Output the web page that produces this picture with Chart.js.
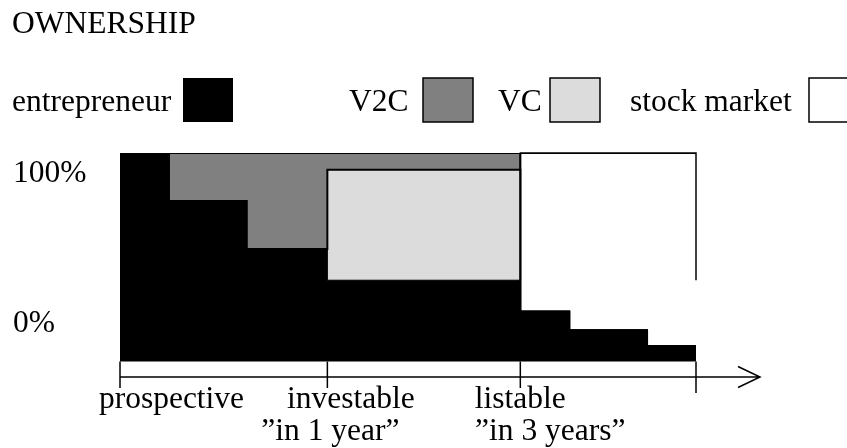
<!DOCTYPE html>
<html lang="en">
<head>
<meta charset="UTF-8">
<title>Ownership</title>
<script src="https://cdn.jsdelivr.net/npm/chart.js"></script>
<style>
  html, body { margin: 0; padding: 0; background: #fff; }
  canvas { display: block; }
</style>
</head>
<body>
<canvas id="ownership" width="847" height="448"></canvas>
<script>
  // stage positions along the time axis (0 = prospective, 100 = end of axis)
  const stageX = [0, 8.5, 22, 36, 69.5, 78, 91.5, 100];

  // ownership shares (%) held from each stage position onwards
  const entrepreneur = [100, 77, 54, 39, 24, 15, 7.5, 7.5];
  const vc           = [0, 0, 0, 53, 0, 0, 0, 0];
  const v2c          = [0, 23, 46, 8, 0, 0, 0, 0];
  const stockMarket  = [0, 0, 0, 0, 76, 85, 92.5, 92.5];

  const titleText = "OWNERSHIP";
  const tickValues = [0, 36, 69.5, 100];
  const tickLabels = ["prospective", "investable", "listable", ""];
  const tickSubLabels = ["", "\u201Din 1 year\u201D", "\u201Din 3 years\u201D", ""];
  const yLabelValues = [100, 0];
  const yLabels = ["100%", "0%"];

  const FONT = '31.5px "Liberation Serif", "Times New Roman", serif';

  const pts = vals => stageX.map((x, i) => ({ x: x, y: vals[i] }));

  // drawing that chart.js has no option for: title, legend, axis arrow, labels
  const overlay = {
    id: 'overlay',
    afterDatasetsDraw(chart) {
      const { ctx, chartArea, scales: { x, y } } = chart;
      ctx.save();
      ctx.strokeStyle = '#000';
      ctx.lineWidth = 1.5;

      // stock market box: left, top and right edges
      const xl = x.getPixelForValue(stageX[4]);
      const xr = x.getPixelForValue(stageX[stageX.length - 1]);
      const yt = y.getPixelForValue(100);
      const yb = y.getPixelForValue(entrepreneur[3]);
      ctx.beginPath();
      ctx.moveTo(xl, yb); ctx.lineTo(xl, yt); ctx.lineTo(xr, yt); ctx.lineTo(xr, yb);
      ctx.stroke();

      // x axis with arrow
      const ya = chartArea.bottom;
      const x0 = x.getPixelForValue(0);
      const tip = chartArea.right + 64;
      ctx.beginPath();
      ctx.moveTo(x0, ya); ctx.lineTo(tip, ya);
      ctx.moveTo(tip - 22, ya - 10.5); ctx.lineTo(tip, ya); ctx.lineTo(tip - 22, ya + 10.5);
      ctx.stroke();

      // ticks
      const y0 = y.getPixelForValue(0);
      tickValues.forEach((t, i) => {
        const px = x.getPixelForValue(t);
        ctx.beginPath();
        ctx.moveTo(px, y0);
        ctx.lineTo(px, ya + (i === tickValues.length - 1 ? 16 : 11));
        ctx.stroke();
      });

      ctx.fillStyle = '#000';
      ctx.font = FONT;
      ctx.textBaseline = 'alphabetic';

      // tick labels
      const dx1 = [51.5, 23.5, 0, 0];
      const dx2 = [0, 3, 30, 0];
      ctx.textAlign = 'center';
      tickValues.forEach((t, i) => {
        const px = x.getPixelForValue(t);
        if (tickLabels[i]) ctx.fillText(tickLabels[i], px + dx1[i], ya + 31);
        if (tickSubLabels[i]) ctx.fillText(tickSubLabels[i], px + dx2[i], ya + 63);
      });

      // y labels
      ctx.textAlign = 'left';
      ctx.fillText(yLabels[0], 13, y.getPixelForValue(yLabelValues[0]) + 29);
      ctx.fillText(yLabels[1], 13, y.getPixelForValue(yLabelValues[1]) - 29.5);

      // title
      ctx.fillText(titleText, 12, 33);

      // legend: text followed by a box
      const legend = [
        { ds: 0, textX: 12,  boxX: 183 },
        { ds: 2, textX: 349, boxX: 423 },
        { ds: 1, textX: 498, boxX: 550 },
        { ds: 3, textX: 630, boxX: 809 }
      ];
      legend.forEach(item => {
        const d = chart.data.datasets[item.ds];
        ctx.fillStyle = '#000';
        ctx.fillText(d.label, item.textX, 111);
        ctx.fillStyle = d.backgroundColor;
        ctx.fillRect(item.boxX, 78, 50, 44);
        if (item.ds !== 0) {
          ctx.lineWidth = 1.5;
          ctx.strokeRect(item.boxX, 78, 50, 44);
        }
      });

      ctx.restore();
    }
  };

  const ctx = document.getElementById('ownership').getContext('2d');
  const chart = new Chart(ctx, {
    type: 'line',
    data: {
      datasets: [
        { label: 'entrepreneur', data: pts(entrepreneur), backgroundColor: '#000000', borderColor: '#000', borderWidth: 1, fill: 'origin' },
        { label: 'VC', data: pts(vc), backgroundColor: '#dcdcdc', borderColor: '#000', borderWidth: 2, fill: '-1' },
        { label: 'V2C', data: pts(v2c), backgroundColor: '#808080', borderColor: '#000', borderWidth: 2, fill: '-1' },
        { label: 'stock market', data: pts(stockMarket), backgroundColor: '#ffffff', borderColor: '#000', borderWidth: 2, fill: '-1' }
      ]
    },
    options: {
      responsive: false,
      animation: false,
      layout: { padding: { left: 120, right: 151, top: 153, bottom: 71 } },
      elements: { line: { stepped: true, tension: 0 }, point: { radius: 0 } },
      scales: {
        x: { type: 'linear', min: 0, max: 100, display: false },
        y: { stacked: true, min: -7.4, max: 100, display: false }
      },
      plugins: {
        legend: { display: false },
        title: { display: false },
        tooltip: { enabled: false }
      }
    },
    plugins: [overlay]
  });
</script>
</body>
</html>
